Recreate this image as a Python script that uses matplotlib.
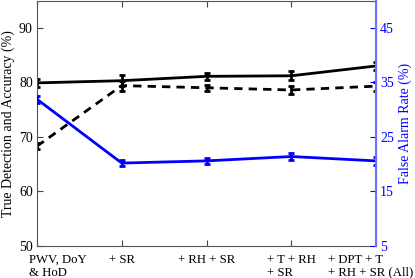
import matplotlib.pyplot as plt
import matplotlib.transforms as mtransforms

# 데이터
labels = ['PWV, DoY\n& HoD', '+ SR', '+ RH + SR', '+ T + RH\n+ SR', '+ DPT + T\n+ RH + SR (All)']
true_det = [79.9, 80.3, 81.1, 81.2, 83.0]
true_det_err = [0.7, 1.0, 0.6, 0.8, 0.7]
accuracy = [68.3, 79.4, 79.0, 78.6, 79.3]
accuracy_err = [0.6, 0.9, 0.6, 0.8, 0.8]
false_alarm = [31.9, 20.2, 20.6, 21.4, 20.6]
false_alarm_err = [0.6, 0.5, 0.5, 0.7, 0.7]

plt.rcParams['font.family'] = ['Liberation Serif', 'DejaVu Serif']
plt.rcParams['font.size'] = 9.5

fig = plt.figure(figsize=(4.15, 2.78), dpi=100)
ax = fig.add_axes([37 / 415, 32 / 278, 339 / 415, 245.5 / 278])
x = list(range(len(labels)))

# 왼쪽 축 (검정)
eb = dict(capsize=2.5, capthick=2, elinewidth=2, lw=2)
ax.errorbar(x, true_det, yerr=true_det_err, color='black', ls='-', **eb)
ax.errorbar(x, accuracy, yerr=accuracy_err, color='black', ls=(0, (3, 2.2)), **eb)
ax.set_xlim(0, 4)
ax.set_ylim(50, 95)
ax.set_yticks([50, 60, 70, 80, 90])
ax.set_ylabel('True Detection and Accuracy (%)', fontsize=10, labelpad=3)
ax.set_xticks(x)
ax.set_xticklabels(labels, ha='center', multialignment='left', linespacing=1.1, fontsize=9.2)
ax.tick_params(direction='in', length=4, top=True, colors='#444444', labelcolor='black')
ax.tick_params(axis='x', pad=5.5)
ax.tick_params(axis='y', labelsize=10, pad=3)
for s in ax.spines.values():
    s.set_color('#555555')
    s.set_linewidth(0.8)

# 첫 번째, 마지막 라벨 위치 조정
tl = ax.get_xticklabels()
tl[0].set_transform(tl[0].get_transform() + mtransforms.ScaledTranslation(21 / 100, 0, fig.dpi_scale_trans))
tl[-1].set_transform(tl[-1].get_transform() + mtransforms.ScaledTranslation(-5 / 100, 0, fig.dpi_scale_trans))

# 오른쪽 축 (파랑)
ax2 = ax.twinx()
ax2.errorbar(x, false_alarm, yerr=false_alarm_err, color='#0000ff', ls='-', **eb)
ax2.set_ylim(5, 50)
ax2.set_yticks([5, 15, 25, 35, 45])
ax2.set_ylabel('False Alarm Rate (%)', color='#0000ff', fontsize=10, labelpad=3)
ax2.tick_params(direction='in', length=4, colors='#0000ff', pad=3, labelsize=10)
ax2.spines['right'].set_color('#7070ff')
ax2.spines['right'].set_linewidth(1.5)
for k in ['left', 'top', 'bottom']:
    ax2.spines[k].set_visible(False)

plt.savefig('out.png', dpi=100)
